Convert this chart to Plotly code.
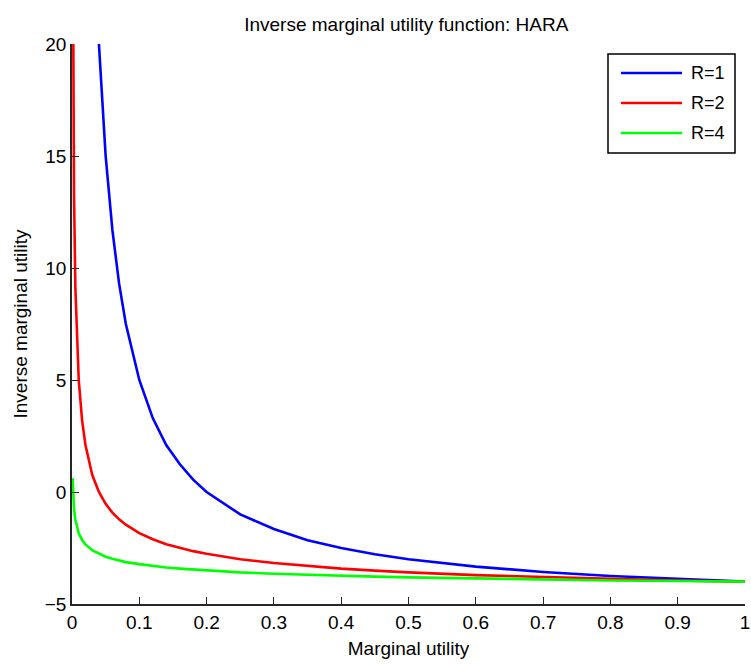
import plotly.graph_objects as go

# Data
x_r1 = [0.03, 0.04, 0.05, 0.06, 0.07, 0.08, 0.1, 0.12, 0.14, 0.16, 0.18, 0.2,
        0.25, 0.3, 0.35, 0.4, 0.45, 0.5, 0.6, 0.7, 0.8, 0.9, 1.0]
y_r1 = [28.3, 20.0, 15.0, 11.7, 9.3, 7.5, 5.0, 3.3, 2.1, 1.25, 0.55, 0.0,
        -1.0, -1.65, -2.15, -2.5, -2.78, -3.0, -3.33, -3.57, -3.75, -3.89, -4.0]

x_r2 = [0.001, 0.002, 0.003, 0.005, 0.0075, 0.01, 0.015, 0.02, 0.03, 0.04, 0.05,
        0.06, 0.07, 0.08, 0.1, 0.12, 0.14, 0.16, 0.18, 0.2, 0.25, 0.3, 0.35,
        0.4, 0.45, 0.5, 0.6, 0.7, 0.8, 0.9, 1.0]
y_r2 = [26.6, 17.4, 13.3, 9.1, 6.5, 5.0, 3.2, 2.1, 0.77, 0.0, -0.53,
        -0.92, -1.22, -1.46, -1.84, -2.11, -2.33, -2.5, -2.64, -2.76, -3.0, -3.17, -3.31,
        -3.42, -3.51, -3.59, -3.71, -3.8, -3.88, -3.95, -4.0]

x_r4 = [0.001, 0.002, 0.003, 0.005, 0.0075, 0.01, 0.015, 0.02, 0.03, 0.04, 0.05,
        0.06, 0.07, 0.08, 0.1, 0.12, 0.14, 0.16, 0.18, 0.2, 0.25, 0.3, 0.35,
        0.4, 0.45, 0.5, 0.6, 0.7, 0.8, 0.9, 1.0]
y_r4 = [0.62, -0.27, -0.74, -1.24, -1.57, -1.84, -2.14, -2.34, -2.6, -2.76, -2.89,
        -2.98, -3.06, -3.13, -3.22, -3.31, -3.37, -3.42, -3.46, -3.5, -3.59, -3.65, -3.7,
        -3.74, -3.78, -3.81, -3.86, -3.91, -3.95, -3.97, -4.0]

series_names = ["R=1", "R=2", "R=4"]
series_colors = ["#0000FF", "#FF0000", "#00FF00"]

x_ticks = [0, 0.1, 0.2, 0.3, 0.4, 0.5, 0.6, 0.7, 0.8, 0.9, 1]
x_ticktext = ["0", "0.1", "0.2", "0.3", "0.4", "0.5", "0.6", "0.7", "0.8", "0.9", "1"]
y_ticks = [-5, 0, 5, 10, 15, 20]

FONT = "Liberation Sans, Arial, sans-serif"
AX = "#262626"

fig = go.Figure()
for xs, ys, name, col in zip([x_r1, x_r2, x_r4], [y_r1, y_r2, y_r4], series_names, series_colors):
    fig.add_trace(go.Scatter(x=xs, y=ys, mode="lines", name=name,
                             line=dict(color=col, width=2.6), showlegend=False, cliponaxis=True))

fig.update_layout(
    width=751, height=664,
    margin=dict(l=72, r=6, t=44, b=60, autoexpand=False),
    paper_bgcolor="white", plot_bgcolor="white",
    font=dict(family=FONT, size=18, color="black"),
    title=dict(text="Inverse marginal utility function: HARA", x=0.541, xanchor="center",
               y=0.963, yanchor="middle", font=dict(size=19, color="black")),
)
fig.update_xaxes(range=[0, 1], tickvals=x_ticks, ticktext=x_ticktext, automargin=False,
                 showgrid=False, zeroline=False, showline=True, linecolor=AX, linewidth=1.5,
                 ticks="inside", ticklen=7, tickcolor=AX, tickwidth=1.2,
                 tickfont=dict(size=19, color="black"),
                 title=dict(text="Marginal utility", font=dict(size=19, color="black"), standoff=10))
fig.update_yaxes(range=[-5, 20], tickvals=y_ticks, automargin=False,
                 showgrid=False, zeroline=False, showline=True, linecolor=AX, linewidth=1.5,
                 ticks="inside", ticklen=7, tickcolor=AX, tickwidth=1.2,
                 tickfont=dict(size=19, color="black"),
                 title=dict(text="Inverse marginal utility", font=dict(size=19, color="black"), standoff=12))

# Legend box (drawn in pixel-equivalent paper coords)
W, H = 751, 664
L, R, T, B = 72, 6, 44, 60
pw, ph = W - L - R, H - T - B
def px(xp):
    return (xp - L) / pw
def py(yp):
    return (H - B - yp) / ph

fig.add_shape(type="rect", xref="paper", yref="paper",
              x0=px(608), x1=px(735), y0=py(153), y1=py(54),
              line=dict(color="black", width=1.5), fillcolor="white", layer="above")
row_y = [73, 103, 133]
for name, col, yy in zip(series_names, series_colors, row_y):
    fig.add_shape(type="line", xref="paper", yref="paper",
                  x0=px(621), x1=px(682), y0=py(yy), y1=py(yy),
                  line=dict(color=col, width=2.6), layer="above")
    fig.add_annotation(xref="paper", yref="paper", x=px(689), y=py(yy), text=name,
                       showarrow=False, xanchor="left", yanchor="middle",
                       font=dict(size=18, color="black", family=FONT))

fig.write_html("out.html", config={"displayModeBar": False},
               post_script="document.body.style.margin='0';document.body.style.overflow='hidden';")
